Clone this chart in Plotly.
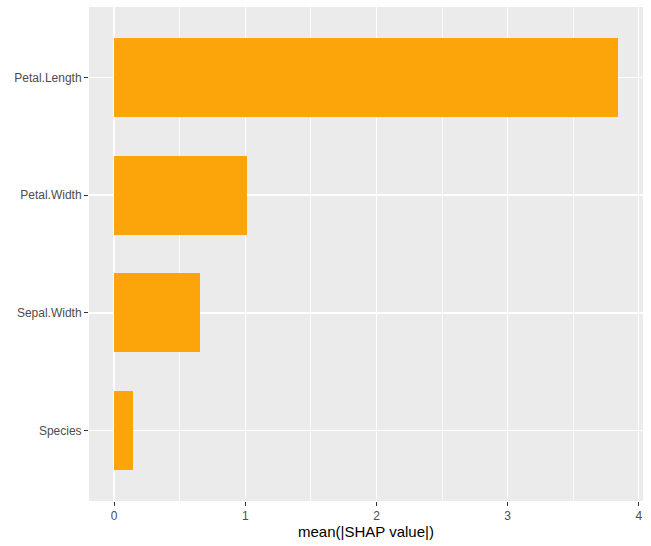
import plotly.graph_objects as go

features = ["Species", "Sepal.Width", "Petal.Width", "Petal.Length"]
mean_abs_shap = [0.145, 0.655, 1.013, 3.84]
x_ticks = [0, 1, 2, 3, 4]

fig = go.Figure(go.Bar(
    x=mean_abs_shap,
    y=features,
    orientation="h",
    width=0.67,
    marker=dict(color="#FCA50A", line=dict(width=0)),
))

fig.update_layout(
    width=651, height=546,
    margin=dict(l=89, r=8, t=7, b=45),
    paper_bgcolor="white",
    plot_bgcolor="#EBEBEB",
    font=dict(family="Liberation Sans, Arial, sans-serif", size=12, color="#4D4D4D"),
    showlegend=False,
    bargap=0,
)

fig.update_xaxes(
    range=[-0.192, 4.032],
    tickvals=x_ticks,
    ticktext=[str(t) for t in x_ticks],
    showgrid=True, gridcolor="white", gridwidth=1.4,
    minor=dict(dtick=0.5, tick0=0, showgrid=True, gridcolor="white", gridwidth=0.7, ticks=""),
    zeroline=False,
    ticks="outside", ticklen=4, tickwidth=1, tickcolor="#333333",
    tickfont=dict(size=12, color="#4D4D4D"),
    title=dict(text="mean(|SHAP value|)", font=dict(size=15, color="black"), standoff=4),
    automargin=False,
    showline=False,
)

fig.update_yaxes(
    type="category",
    categoryorder="array", categoryarray=features,
    range=[-0.6, 3.6],
    showgrid=True, gridcolor="white", gridwidth=1.4,
    zeroline=False,
    ticks="outside", ticklen=4, tickwidth=1, tickcolor="#333333",
    tickfont=dict(size=12, color="#4D4D4D"),
    automargin=False,
    showline=False,
)

fig.write_html(
    "out.html",
    config={"displayModeBar": False, "staticPlot": True},
    post_script="document.body.style.margin='0';document.body.style.padding='0';",
)
